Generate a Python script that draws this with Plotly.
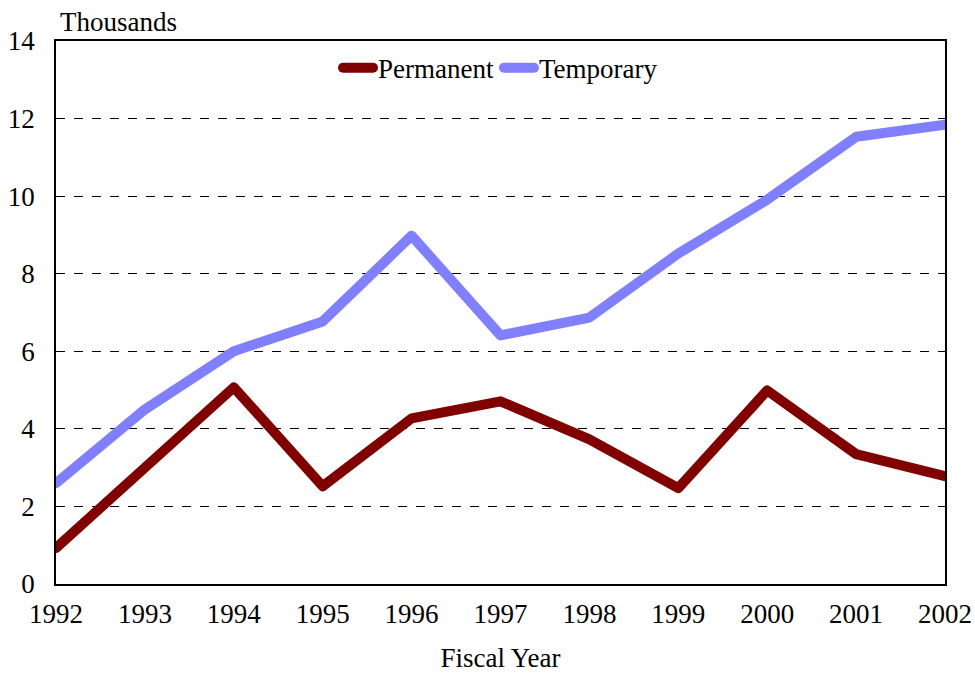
import plotly.graph_objects as go

years = [1992, 1993, 1994, 1995, 1996, 1997, 1998, 1999, 2000, 2001, 2002]
permanent = [0.93, 2.96, 5.07, 2.52, 4.27, 4.71, 3.73, 2.47, 4.99, 3.35, 2.78]
temporary = [2.6, 4.5, 6.0, 6.77, 8.98, 6.41, 6.87, 8.52, 9.91, 11.53, 11.84]
y_ticks = [0, 2, 4, 6, 8, 10, 12, 14]

FONT = "Liberation Serif, serif"

fig = go.Figure()
fig.add_trace(go.Scatter(x=years, y=permanent, mode="lines", name="Permanent",
                         line=dict(color="#800000", width=10), cliponaxis=False))
fig.add_trace(go.Scatter(x=years, y=temporary, mode="lines", name="Temporary",
                         line=dict(color="#8080ff", width=10), cliponaxis=False))

fig.update_layout(
    width=975, height=673,
    margin=dict(l=56, r=30, t=41, b=89, autoexpand=False),
    paper_bgcolor="white", plot_bgcolor="white",
    font=dict(family=FONT, size=27, color="black"),
    showlegend=True,
    legend=dict(orientation="h", x=0.5, xanchor="center", y=0.995, yanchor="top",
                font=dict(size=27), bgcolor="rgba(0,0,0,0)",
                itemwidth=30, tracegroupgap=0),
    xaxis=dict(range=[1992, 2002], tickvals=years, ticktext=[str(y) for y in years],
               showgrid=False, showline=True, linecolor="black", linewidth=1.5,
               mirror=True, ticks="", zeroline=False, automargin=False,
               ticklabelstandoff=5,
               title=dict(text="Fiscal Year", font=dict(size=27), standoff=26)),
    yaxis=dict(range=[0, 14], tickvals=y_ticks, showgrid=True,
               gridcolor="black", griddash="dash", gridwidth=1,
               showline=True, linecolor="black", linewidth=1.5, mirror=True,
               ticks="", zeroline=False, ticklabelstandoff=14, automargin=False),
    annotations=[dict(text="Thousands", xref="paper", yref="paper", x=0.0, y=1.0,
                      xanchor="left", yanchor="bottom", showarrow=False,
                      xshift=2, yshift=2, font=dict(size=27))],
)

fig.write_html("out.html", config={"displayModeBar": False},
               post_script="document.body.style.margin='0';document.body.style.overflow='hidden';"
                           "document.querySelectorAll('.scatterlayer path.js-line, .legend path').forEach(function(p){p.style.strokeLinecap='round';p.style.strokeLinejoin='round';});")
